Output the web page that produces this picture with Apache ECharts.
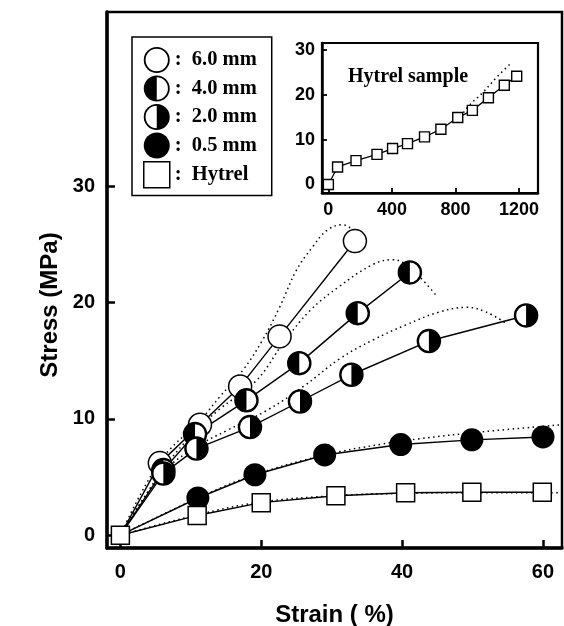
<!DOCTYPE html>
<html>
<head>
<meta charset="utf-8">
<script src="https://cdn.jsdelivr.net/npm/echarts@6/dist/echarts.min.js"></script>
<style>
  html, body { margin: 0; padding: 0; background: #fff; }
  #chart { width: 564px; height: 626px; }
</style>
</head>
<body>
<div id="chart"></div>
<script>
// ---------------- DATA ----------------
// Main plot: strain (%) vs stress (MPa)
const strain60 = [0, 5.6, 11.3, 17.0, 22.6, 33.3];
const stress60 = [0, 6.2, 9.5, 12.8, 17.1, 25.3];
const strain40 = [0, 6.1, 10.6, 17.9, 25.4, 33.7, 41.1];
const stress40 = [0, 5.6, 8.7, 11.6, 14.8, 19.1, 22.6];
const strain20 = [0, 6.1, 10.8, 18.4, 25.5, 32.8, 43.8, 57.6];
const stress20 = [0, 5.3, 7.45, 9.3, 11.5, 13.8, 16.7, 18.9];
const strain05 = [0, 11.0, 19.1, 29.0, 39.8, 49.9, 60.0];
const stress05 = [0, 3.2, 5.2, 6.9, 7.8, 8.2, 8.45];
const strainHy = [0, 10.9, 20.0, 30.6, 40.5, 49.9, 59.9];
const stressHy = [0, 1.7, 2.8, 3.4, 3.65, 3.7, 3.7];

// Dotted (model) curves
const dotStrain60 = [0, 5.6, 11.5, 14.1, 17.4, 20.2, 22.6, 25.0, 27.3, 29.3, 31.5, 33.0, 33.5];
const dotStress60 = [0, 6.3, 10.0, 11.9, 14.2, 16.8, 19.6, 22.8, 24.8, 26.2, 26.7, 26.2, 25.3];
const dotStrain40 = [0, 6.1, 10.6, 14.0, 19.3, 23.1, 26.9, 31.1, 35.9, 38.7, 41.0, 43.0, 45.0];
const dotStress40 = [0, 5.7, 8.9, 10.8, 13.3, 16.5, 19.3, 21.4, 23.3, 23.7, 23.1, 21.9, 20.5];
const dotStrain20 = [0, 6.1, 10.8, 15.1, 20.7, 26.0, 31.2, 35.9, 40.6, 45.3, 49.1, 51.9, 54.8];
const dotStress20 = [0, 5.4, 7.6, 9.0, 10.7, 12.8, 15.2, 16.8, 18.1, 19.2, 19.6, 19.2, 18.2];
const dotStrain05 = [0, 11.0, 19.1, 29.0, 36.8, 42.5, 51.5, 62.6];
const dotStress05 = [0, 3.2, 5.2, 6.9, 7.8, 8.3, 8.9, 9.5];
const dotStrainHy = [0, 10.9, 20.0, 30.6, 40.5, 49.9, 59.9, 62.6];
const dotStressHy = [0, 1.75, 2.85, 3.4, 3.6, 3.65, 3.65, 3.65];

// Inset: Hytrel sample
const insetStrain = [0, 58, 174, 306, 404, 498, 605, 708, 814, 906, 1007, 1107, 1185];
const insetStress = [0, 3.9, 5.3, 6.7, 8.0, 9.1, 10.6, 12.3, 14.9, 16.5, 19.3, 22.1, 24.1];
const insetDotStrain = [850, 892, 975, 1060, 1154];
const insetDotStress = [16.0, 17.8, 20.6, 23.9, 27.2];

// Ticks / labels
const mainXTicks = [0, 20, 40, 60];
const mainYTicks = [0, 10, 20, 30];
const insetXTicks = [0, 400, 800, 1200];
const insetYTicks = [0, 10, 20, 30];
const seriesNames = ['6.0 mm', '4.0 mm', '2.0 mm', '0.5 mm', 'Hytrel'];

// ---------------- HELPERS ----------------
const pairs = (xs, ys) => xs.map((x, i) => [x, ys[i]]);
const RING = 'M0,-10A10,10 0 1,1 0,10A10,10 0 1,1 0,-10Z M0,-8.6A8.6,8.6 0 1,0 0,8.6A8.6,8.6 0 1,0 0,-8.6Z';
const LEFT_HALF = 'path://' + RING + ' M0,-8.6A8.6,8.6 0 0,0 0,8.6Z';
const RIGHT_HALF = 'path://' + RING + ' M0,-8.6A8.6,8.6 0 0,1 0,8.6Z';
const OPEN_RING = 'path://' + RING;

const SANS = 'Liberation Sans';
const SERIF = 'Liberation Serif';
const plain = v => String(v);

function solidLine(name, xs, ys, grid) {
  return {
    name: name, type: 'line', xAxisIndex: grid, yAxisIndex: grid,
    data: pairs(xs, ys), showSymbol: false, symbol: 'none', smooth: false,
    lineStyle: { color: '#000', width: 1.4 }, silent: true, z: 2
  };
}
function dottedLine(name, xs, ys, grid) {
  return {
    name: name, type: 'line', xAxisIndex: grid, yAxisIndex: grid,
    data: pairs(xs, ys), showSymbol: false, symbol: 'none', smooth: 0.4,
    lineStyle: { color: '#000', width: 1.5, type: [1.5, 3.5] }, silent: true, z: 2
  };
}
function markers(name, pts, symbol, size, fill, border) {
  return {
    name: name, type: 'scatter', xAxisIndex: 0, yAxisIndex: 0,
    data: pts, symbol: symbol, symbolSize: size,
    itemStyle: { color: fill, borderColor: '#000', borderWidth: border, opacity: 1 },
    silent: true, z: 3
  };
}
// circle markers at the origin are hidden under the Hytrel square, so skip index 0
const noOrigin = (xs, ys) => pairs(xs, ys).slice(1);

const series = [
  dottedLine('d60', dotStrain60, dotStress60, 0),
  dottedLine('d40', dotStrain40, dotStress40, 0),
  dottedLine('d20', dotStrain20, dotStress20, 0),
  dottedLine('d05', dotStrain05, dotStress05, 0),
  dottedLine('dHy', dotStrainHy, dotStressHy, 0),
  solidLine('l60', strain60, stress60, 0),
  solidLine('l40', strain40, stress40, 0),
  solidLine('l20', strain20, stress20, 0),
  solidLine('l05', strain05, stress05, 0),
  solidLine('lHy', strainHy, stressHy, 0),
  markers('6.0 mm', noOrigin(strain60, stress60), 'circle', 23, '#fff', 1.5),
  markers('4.0 mm', noOrigin(strain40, stress40), 'circle', 23, '#fff', 1.5),
  markers('4.0 mm', noOrigin(strain40, stress40), LEFT_HALF, 23, '#000', 0),
  markers('2.0 mm', noOrigin(strain20, stress20), 'circle', 23, '#fff', 1.5),
  markers('2.0 mm', noOrigin(strain20, stress20), RIGHT_HALF, 23, '#000', 0),
  markers('0.5 mm', noOrigin(strain05, stress05), 'circle', 23, '#000', 0),
  markers('Hytrel', pairs(strainHy, stressHy), 'rect', 18, '#fff', 1.5),
  // inset
  dottedLine('insetDot', insetDotStrain, insetDotStress, 1),
  {
    name: 'insetLine', type: 'line', xAxisIndex: 1, yAxisIndex: 1,
    data: pairs(insetStrain, insetStress), symbol: 'rect', symbolSize: 10, showSymbol: true,
    lineStyle: { color: '#000', width: 1.3 },
    itemStyle: { color: '#fff', borderColor: '#000', borderWidth: 1.4 },
    silent: true, z: 3
  }
];

const legendIcons = [OPEN_RING, LEFT_HALF, RIGHT_HALF, 'circle', 'rect'];
const legendData = seriesNames.map((n, i) => ({
  name: n,
  icon: legendIcons[i],
  itemStyle: i === 4 ? { color: '#fff', borderColor: '#000', borderWidth: 1.5 }
                     : { color: '#000', borderWidth: 0 }
}));

const option = {
  animation: false,
  backgroundColor: '#fff',
  grid: [
    { left: 107, top: 12, right: 2, bottom: 78, outerBoundsMode: 'none', containLabel: false, show: true, borderColor: '#000', borderWidth: 2.5, backgroundColor: 'transparent' },
    { left: 322, top: 43, right: 26, bottom: 433, outerBoundsMode: 'none', containLabel: false, show: true, borderColor: '#000', borderWidth: 2.2, backgroundColor: 'transparent' }
  ],
  xAxis: [
    {
      type: 'value', gridIndex: 0, min: -1.9, max: 62.7,
      name: 'Strain ( %)', nameLocation: 'middle', nameGap: 55,
      nameTextStyle: { fontFamily: SANS, fontWeight: 'bold', fontSize: 24, color: '#000' },
      axisLine: { show: true, onZero: false, lineStyle: { color: '#000', width: 3.5 } },
      axisTick: { show: true, inside: true, length: 8, customValues: mainXTicks, lineStyle: { color: '#000', width: 2.5 } },
      axisLabel: { customValues: mainXTicks, formatter: plain, margin: 14, fontFamily: SANS, fontWeight: 'bold', fontSize: 20, color: '#000' },
      splitLine: { show: false }
    },
    {
      type: 'value', gridIndex: 1, min: -40, max: 1319,
      axisLine: { show: true, onZero: false, lineStyle: { color: '#000', width: 2.5 } },
      axisTick: { show: true, inside: true, length: 5, customValues: insetXTicks, lineStyle: { color: '#000', width: 1.8 } },
      axisLabel: { customValues: insetXTicks, formatter: plain, margin: 8, fontFamily: SANS, fontWeight: 'bold', fontSize: 18, color: '#000' },
      splitLine: { show: false }
    }
  ],
  yAxis: [
    {
      type: 'value', gridIndex: 0, min: -1.1, max: 45,
      axisLine: { show: true, onZero: false, lineStyle: { color: '#000', width: 3.5 } },
      axisTick: { show: true, inside: true, length: 8, customValues: mainYTicks, lineStyle: { color: '#000', width: 2.5 } },
      axisLabel: { customValues: mainYTicks, formatter: plain, margin: 12, fontFamily: SANS, fontWeight: 'bold', fontSize: 20, color: '#000' },
      splitLine: { show: false }
    },
    {
      type: 'value', gridIndex: 1, min: -1.9, max: 31.5,
      axisLine: { show: true, onZero: false, lineStyle: { color: '#000', width: 2.5 } },
      axisTick: { show: true, inside: true, length: 5, customValues: insetYTicks, lineStyle: { color: '#000', width: 1.8 } },
      axisLabel: { customValues: insetYTicks, formatter: plain, margin: 7, fontFamily: SANS, fontWeight: 'bold', fontSize: 18, color: '#000' },
      splitLine: { show: false }
    }
  ],
  legend: {
    show: true, data: legendData, orient: 'vertical', left: 132, top: 37,
    selectedMode: false,
    itemWidth: 26, itemHeight: 26, itemGap: 2.5,
    padding: [10, 15, 7, 11],
    backgroundColor: '#fff', borderColor: '#000', borderWidth: 1.5,
    formatter: n => ':  ' + n,
    textStyle: { fontFamily: SERIF, fontWeight: 'bold', fontSize: 20.5, color: '#000' },
    z: 10
  },
  graphic: [
    {
      type: 'text', x: 50, y: 305, rotation: Math.PI / 2, z: 20,
      style: { text: 'Stress (MPa)', fontFamily: SANS, fontWeight: 'bold', fontSize: 24, fill: '#000', textAlign: 'center', textVerticalAlign: 'middle' }
    },
    {
      type: 'text', x: 408, y: 77, z: 20,
      style: { text: 'Hytrel sample', fontFamily: SERIF, fontWeight: 'bold', fontSize: 20, fill: '#000', textAlign: 'center', textVerticalAlign: 'middle' }
    }
  ],
  series: series
};

const chart = echarts.init(document.getElementById('chart'), null, { renderer: 'canvas' });
chart.setOption(option);
</script>
</body>
</html>
